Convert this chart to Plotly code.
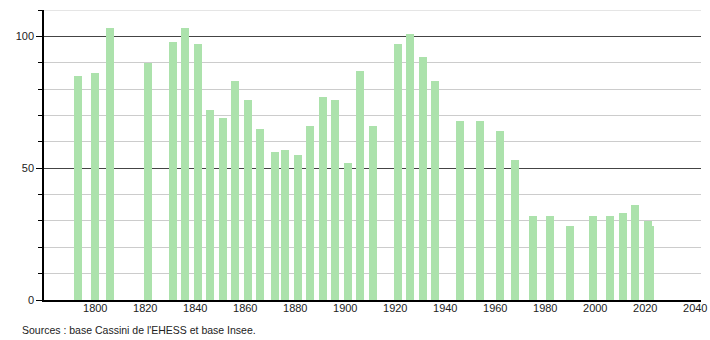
import plotly.graph_objects as go

years = [1793, 1800, 1806, 1821, 1831, 1836, 1841, 1846, 1851, 1856, 1861, 1866,
         1872, 1876, 1881, 1886, 1891, 1896, 1901, 1906, 1911, 1921, 1926, 1931,
         1936, 1946, 1954, 1962, 1968, 1975, 1982, 1990, 1999, 2006, 2011, 2016,
         2021, 2022]
population = [85, 86, 103, 90, 98, 103, 97, 72, 69, 83, 76, 65,
              56, 57, 55, 66, 77, 76, 52, 87, 66, 97, 101, 92,
              83, 68, 68, 64, 53, 32, 32, 28, 32, 32, 33, 36,
              30, 28]
x_ticks = [1800, 1820, 1840, 1860, 1880, 1900, 1920, 1940, 1960, 1980, 2000, 2020, 2040]
source_text = "Sources : base Cassini de l'EHESS et base Insee."

fig = go.Figure()
fig.add_trace(go.Bar(
    x=years, y=population, width=3.2,
    marker=dict(color="rgb(172,226,172)", line=dict(width=0)),
    hoverinfo="x+y",
))

fig.update_layout(
    width=710, height=340,
    margin=dict(l=44, r=9, t=10, b=40, autoexpand=False),
    paper_bgcolor="white", plot_bgcolor="white",
    showlegend=False,
    font=dict(family="Liberation Sans, Arial, sans-serif", size=11, color="#222"),
    bargap=0,
    xaxis=dict(
        range=[1779.5, 2042.3], tickvals=x_ticks, showgrid=False,
        showline=True, linecolor="black", linewidth=1.5,
        ticks="", zeroline=False, tickfont=dict(size=11),
        ticklabelstandoff=-3, automargin=False,
    ),
    yaxis=dict(
        range=[0, 110], tickvals=[0, 50, 100], showgrid=True,
        gridcolor="#444", gridwidth=1,
        showline=True, linecolor="black", linewidth=1.5,
        ticks="outside", ticklen=6, tickcolor="black",
        zeroline=False, tickfont=dict(size=11), automargin=False,
        minor=dict(dtick=10, tick0=0, showgrid=True, gridcolor="#cccccc",
                   ticks="outside", ticklen=4, tickcolor="black"),
    ),
    annotations=[dict(
        text=source_text, xref="paper", yref="paper",
        x=-0.037, y=-0.103, xanchor="left", yanchor="middle",
        showarrow=False, font=dict(size=10.5, color="#222"),
    )],
)

# top gridline at 110
fig.add_hline(y=110, line=dict(color="#cccccc", width=1), layer="below")

fig.write_html("out.html")
